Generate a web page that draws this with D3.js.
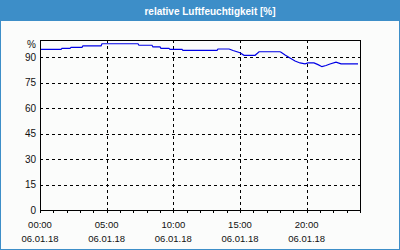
<!DOCTYPE html>
<html><head><meta charset="utf-8">
<script src="https://cdn.jsdelivr.net/npm/d3@7"></script>
<style>
html,body{margin:0;padding:0;background:#fff;}
svg{display:block;}
text{font-family:"Liberation Sans",Arial,sans-serif;}
</style></head><body>
<svg id="c" width="400" height="250"></svg>
<script>
const title = "relative Luftfeuchtigkeit [%]";
const unitLabel = "%";
// hours since 00:00 on 06.01.18
const hours = [0.0,1.58,1.65,2.25,2.33,3.15,3.22,4.58,4.65,7.35,7.42,8.4,8.47,9.0,9.07,9.67,9.75,10.65,10.72,13.28,13.35,14.18,14.48,15.0,15.3,16.13,16.43,18.0,18.08,18.38,18.75,19.13,19.5,19.88,20.1,20.55,20.85,21.15,21.45,21.75,22.2,22.58,23.85];
const humidity = [94.5,94.5,95.1,95.1,95.7,95.7,96.6,96.6,97.8,97.8,96.9,96.9,95.9,95.9,95.1,95.1,94.5,94.5,93.9,93.9,94.7,94.7,93.8,92.5,91.0,91.0,93.1,93.1,92.8,91.2,89.4,87.6,86.5,86.0,86.5,86.5,85.5,84.3,85.0,85.9,87.0,86.0,86.0];
const yTicks = [0,15,30,45,60,75,90];
const xTicks = [0,5,10,15,20];
const xTimeLabels = ["00:00","05:00","10:00","15:00","20:00"];
const xDateLabels = ["06.01.18","06.01.18","06.01.18","06.01.18","06.01.18"];
const minorTicks = d3.range(0,25,1);

const svg = d3.select("#c");
const W=400,H=250;
svg.append("rect").attr("x",0.5).attr("y",0.5).attr("width",W-1).attr("height",H-1)
  .attr("fill","#fbfcfb").attr("stroke","#3d8ec8");
svg.append("rect").attr("x",0).attr("y",0).attr("width",W).attr("height",21).attr("fill","#3d8ec8");
svg.append("text").attr("x",210).attr("y",14.5).attr("text-anchor","middle")
  .attr("fill","#fff").attr("font-weight","bold").attr("font-size","10px").text(title);

const L=40,R=360,T=40,B=210;
const x = d3.scaleLinear().domain([0,24]).range([L,R]);
const y = d3.scaleLinear().domain([0,100]).range([B,T]);

const g = svg.append("g");
// grid
g.selectAll("line.hg").data(yTicks.filter(d=>d>0)).join("line")
  .attr("x1",L).attr("x2",R).attr("y1",d=>Math.round(y(d))+0.5).attr("y2",d=>Math.round(y(d))+0.5)
  .attr("stroke","#000").attr("stroke-dasharray","3,3").attr("shape-rendering","crispEdges");
g.selectAll("line.vg").data(xTicks.filter(d=>d>0)).join("line")
  .attr("y1",T).attr("y2",B).attr("x1",d=>Math.round(x(d))+0.5).attr("x2",d=>Math.round(x(d))+0.5)
  .attr("stroke","#000").attr("stroke-dasharray","3,3").attr("shape-rendering","crispEdges");
// minor ticks
g.selectAll("line.mt").data(minorTicks).join("line")
  .attr("x1",d=>Math.round(x(d))+0.5).attr("x2",d=>Math.round(x(d))+0.5)
  .attr("y1",B).attr("y2",B+3).attr("stroke","#000").attr("shape-rendering","crispEdges");
// line
const line = d3.line().x((d,i)=>x(hours[i])).y(d=>y(d));
g.append("path").datum(humidity).attr("d",line).attr("fill","none")
  .attr("stroke","#0000e6").attr("stroke-width",1.2);
// frame
g.append("rect").attr("x",L+0.5).attr("y",T+0.5).attr("width",R-L).attr("height",B-T)
  .attr("fill","none").attr("stroke","#000").attr("shape-rendering","crispEdges");
// y labels
g.selectAll("text.yl").data(yTicks).join("text")
  .attr("x",36).attr("y",d=>y(d)+3.5).attr("text-anchor","end")
  .attr("font-size","10px").attr("fill","#111").text(d=>d);
g.append("text").attr("x",36).attr("y",47.5).attr("text-anchor","end")
  .attr("font-size","10px").attr("fill","#111").text(unitLabel);
// x labels
g.selectAll("text.xt").data(xTicks).join("text")
  .attr("x",d=>x(d)).attr("y",227.5).attr("text-anchor","middle")
  .attr("font-size","9.5px").attr("fill","#111").text((d,i)=>xTimeLabels[i]);
g.selectAll("text.xd").data(xTicks).join("text")
  .attr("x",d=>x(d)).attr("y",242).attr("text-anchor","middle")
  .attr("font-size","9.5px").attr("fill","#111").text((d,i)=>xDateLabels[i]);
</script></body></html>
